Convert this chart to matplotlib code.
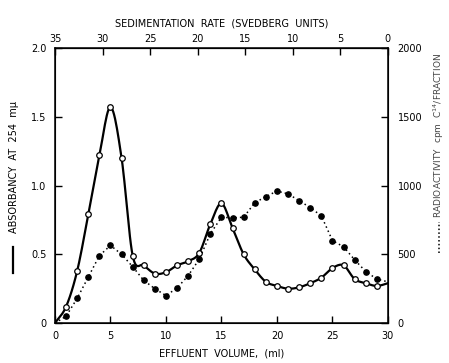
import numpy as np
import matplotlib
matplotlib.use("Agg")
import matplotlib.pyplot as plt
from matplotlib.lines import Line2D

# effluent volume (ml), one fraction per ml
volume = list(range(0, 31))

# absorbancy at 254 mu (solid curve, open circles)
absorbancy = [0.0, 0.12, 0.38, 0.79, 1.22, 1.57, 1.20, 0.49, 0.42, 0.36, 0.37,
              0.42, 0.45, 0.51, 0.72, 0.87, 0.69, 0.50, 0.39, 0.30, 0.27,
              0.25, 0.26, 0.29, 0.33, 0.40, 0.42, 0.32, 0.29, 0.27, 0.29]

# radioactivity, cpm C14 per fraction (dotted curve, filled circles)
radioactivity = [0, 50, 180, 335, 490, 565, 500, 410, 310, 250, 200,
                 255, 345, 465, 650, 770, 765, 770, 875, 920, 960,
                 940, 890, 840, 780, 600, 555, 460, 375, 320, 300]

x_ticks = [0, 5, 10, 15, 20, 25, 30]
abs_ticks = [0, 0.5, 1.0, 1.5, 2.0]
abs_labels = ["0", "0.5", "1.0", "1.5", "2.0"]
cpm_ticks = [0, 500, 1000, 1500, 2000]
sed_ticks = [35, 30, 25, 20, 15, 10, 5, 0]


def smooth(x, y, n=12):
    # Catmull-Rom curve through the points, used only for drawing the line
    x = np.asarray(x, float)
    y = np.asarray(y, float)
    px = np.concatenate([[2 * x[0] - x[1]], x, [2 * x[-1] - x[-2]]])
    py = np.concatenate([[2 * y[0] - y[1]], y, [2 * y[-1] - y[-2]]])
    t = np.linspace(0, 1, n, endpoint=False)
    xs, ys = [], []
    for i in range(1, len(px) - 2):
        for p, out in ((px, xs), (py, ys)):
            p0, p1, p2, p3 = p[i - 1], p[i], p[i + 1], p[i + 2]
            out.extend(0.5 * (2 * p1 + (p2 - p0) * t
                              + (2 * p0 - 5 * p1 + 4 * p2 - p3) * t ** 2
                              + (3 * p1 - p0 - 3 * p2 + p3) * t ** 3))
    xs.append(x[-1])
    ys.append(y[-1])
    return np.array(xs), np.array(ys)


plt.rcParams["font.family"] = "DejaVu Sans"
plt.rcParams["font.size"] = 7

fig = plt.figure(figsize=(4.49, 3.63), dpi=100)
ax = fig.add_axes([0.1225, 0.110, 0.7415, 0.7575])

# absorbancy curve
sx, sy = smooth(volume, absorbancy)
ax.plot(sx, sy, color="black", lw=1.6, zorder=3)
ax.plot(volume[1:30], absorbancy[1:30], "o", ms=4.0, mfc="white",
        mec="black", mew=0.9, zorder=4)

ax.set_xlim(0, 30)
ax.set_ylim(0, 2.0)
ax.set_xticks(x_ticks)
ax.set_yticks(abs_ticks)
ax.set_yticklabels(abs_labels)
ax.tick_params(direction="in", length=5, width=1, pad=6)
for s in ax.spines.values():
    s.set_linewidth(1.1)

# radioactivity on the right-hand axis
ax2 = ax.twinx()
ax2.plot(volume, radioactivity, color="black", lw=1.1, ls=(0, (1, 2)), zorder=3)
ax2.plot(volume[1:30], radioactivity[1:30], "o", ms=3.8, color="black", zorder=4)
ax2.set_ylim(0, 2000)
ax2.set_yticks(cpm_ticks)
ax2.tick_params(direction="in", length=5, width=1, pad=7)

# sedimentation rate scale along the top
top = ax.secondary_xaxis("top", functions=(lambda v: 35 - v * 35 / 30,
                                            lambda s: (35 - s) * 30 / 35))
top.set_xticks(sed_ticks)
top.tick_params(direction="in", length=5, width=1, pad=3)
top.set_xlabel("SEDIMENTATION  RATE  (SVEDBERG  UNITS)", labelpad=5)

ax.set_xlabel("EFFLUENT  VOLUME,  (ml)", labelpad=5)

fig.text(0.031, 0.539, "ABSORBANCY  AT  254  m\u03bc", rotation=90,
         ha="center", va="center")
fig.add_artist(Line2D([0.029, 0.029], [0.248, 0.320], color="black", lw=1.6,
                      transform=fig.transFigure))

fig.text(0.978, 0.628, "RADIOACTIVITY  cpm  C$^{14}$/FRACTION", rotation=90,
         ha="center", va="center", color="#444444", fontsize=6.5)
fig.add_artist(Line2D([0.978, 0.978], [0.303, 0.388], color="black", lw=1.1,
                      ls=(0, (1, 1.5)), transform=fig.transFigure))

fig.savefig("out.png", dpi=100)
